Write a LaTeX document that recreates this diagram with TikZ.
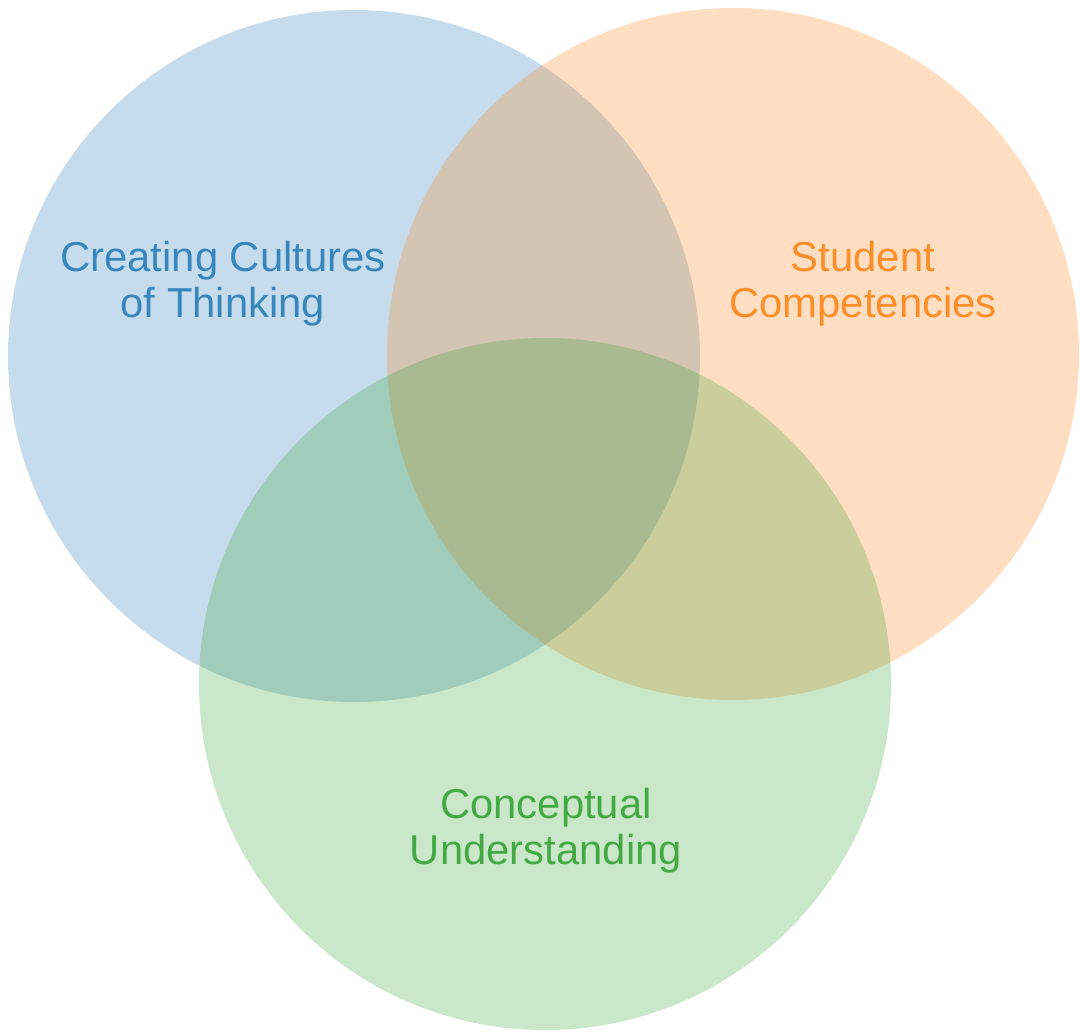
\documentclass[tikz,border=0pt]{standalone}
\usepackage{fontspec}
\setmainfont{Liberation Sans}
\definecolor{tabblue}{HTML}{1F77B4}
\definecolor{taborange}{HTML}{FF7F0E}
\definecolor{tabgreen}{HTML}{2CA02C}
\tikzset{
	set/.style = {fill opacity = 0.25},
	setlabel/.style = {align = center, font = \fontsize{11.9}{13}\selectfont, text opacity = 0.85}
}

\begin{document}
\begin{tikzpicture}
		\def\R{3.46};
		
		\fill [white] (0,0) rectangle (10.8,10.35);
		\useasboundingbox (0,0) rectangle (10.8,10.35);
		
		\coordinate (thinking) at (3.54,6.79);
		\coordinate (competencies) at (7.33,6.81);
		\coordinate (understanding) at (5.45,3.51);
		
		\fill [tabblue, set] (thinking) circle [radius = \R];
		\fill [taborange, set] (competencies) circle [radius = \R];
		\fill [tabgreen, set] (understanding) circle [radius = \R];
		
		\node [setlabel, tabblue] (thinking label) at (2.23,7.51) {Creating Cultures\\of Thinking};
		\node [setlabel, taborange] (competencies label) at (8.63,7.51) {Student\\Competencies};
		\node [setlabel, tabgreen] (understanding label) at (5.46,2.04) {Conceptual\\Understanding};
	\end{tikzpicture}
\end{document}
